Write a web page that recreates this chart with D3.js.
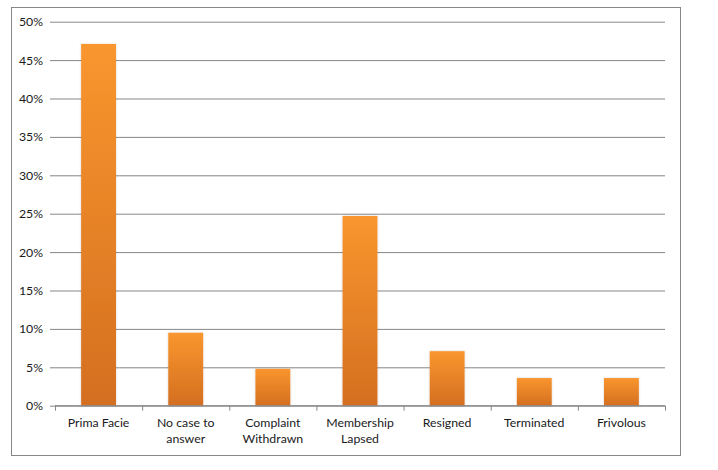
<!DOCTYPE html>
<html><head><meta charset="utf-8">
<script src="https://cdn.jsdelivr.net/npm/d3@7"></script>
<style>body{margin:0;background:#fff}svg{display:block}text{font-family:Lato,"Open Sans",sans-serif;font-size:12.3px;fill:#1a1a1a}</style>
</head><body><svg id="c" width="718" height="470"></svg>
<script>
const categories = ["Prima Facie","No case to answer","Complaint Withdrawn","Membership Lapsed","Resigned","Terminated","Frivolous"];
const categoryLines = [["Prima Facie"],["No case to","answer"],["Complaint","Withdrawn"],["Membership","Lapsed"],["Resigned"],["Terminated"],["Frivolous"]];
const values = [0.471,0.095,0.048,0.247,0.071,0.036,0.036];
const yTicks = [0,0.05,0.10,0.15,0.20,0.25,0.30,0.35,0.40,0.45,0.50];

const svg = d3.select("#c");
const L=55,R=665,T=21.7,B=405.7;
svg.append("rect").attr("x",11.5).attr("y",7.5).attr("width",669).attr("height",448).attr("fill","none").attr("stroke","#878787");

const defs = svg.append("defs");
const g = defs.append("linearGradient").attr("id","bg").attr("x1",0).attr("x2",0).attr("y1",0).attr("y2",1);
g.append("stop").attr("offset","0%").attr("stop-color","#F9962E");
g.append("stop").attr("offset","100%").attr("stop-color","#D46F20");
const f = defs.append("filter").attr("id","sh").attr("x","-20%").attr("y","-5%").attr("width","140%").attr("height","110%");
f.append("feDropShadow").attr("dx",0).attr("dy",0).attr("stdDeviation",1.2).attr("flood-color","#000").attr("flood-opacity",0.18);

const x = d3.scaleBand().domain(categories).range([L,R]).paddingInner(0.6).paddingOuter(0.3);
const y = d3.scaleLinear().domain([0,0.5]).range([B,T]);

const ya = svg.append("g").attr("transform",`translate(${L},0)`)
  .call(d3.axisLeft(y).tickValues(yTicks).tickFormat(d3.format(".0%")).tickSize(-(R-L)).tickSizeOuter(0).tickPadding(12));
ya.select(".domain").remove();
ya.selectAll(".tick line").attr("stroke","#878787").attr("x1",-5);
ya.selectAll(".tick text").attr("fill","#1a1a1a").style("font-family","Lato,sans-serif").style("font-size","12.3px");

svg.append("g").selectAll("rect").data(values).join("rect")
  .attr("x",(d,i)=>x(categories[i])).attr("width",x.bandwidth())
  .attr("y",d=>y(d)).attr("height",d=>B-y(d))
  .attr("fill","url(#bg)").attr("filter","url(#sh)");

const xb = d3.scaleLinear().domain([0,categories.length]).range([L,R]);
const xa = svg.append("g").attr("transform",`translate(0,${B})`)
  .call(d3.axisBottom(xb).tickValues(d3.range(categories.length+1)).tickSize(5).tickFormat(""));
xa.select(".domain").attr("stroke","#878787").attr("d",`M${L},0H${R}`);
xa.selectAll(".tick line").attr("stroke","#878787");

svg.append("g").selectAll("text").data(categoryLines).join("text")
  .attr("text-anchor","middle")
  .attr("x",(d,i)=>x(categories[i])+x.bandwidth()/2)
  .attr("y",427)
  .selectAll("tspan").data(d=>d).join("tspan")
  .attr("x",function(){return this.parentNode.getAttribute("x");})
  .attr("dy",(d,i)=>i===0?0:15.5).text(d=>d);
</script></body></html>
